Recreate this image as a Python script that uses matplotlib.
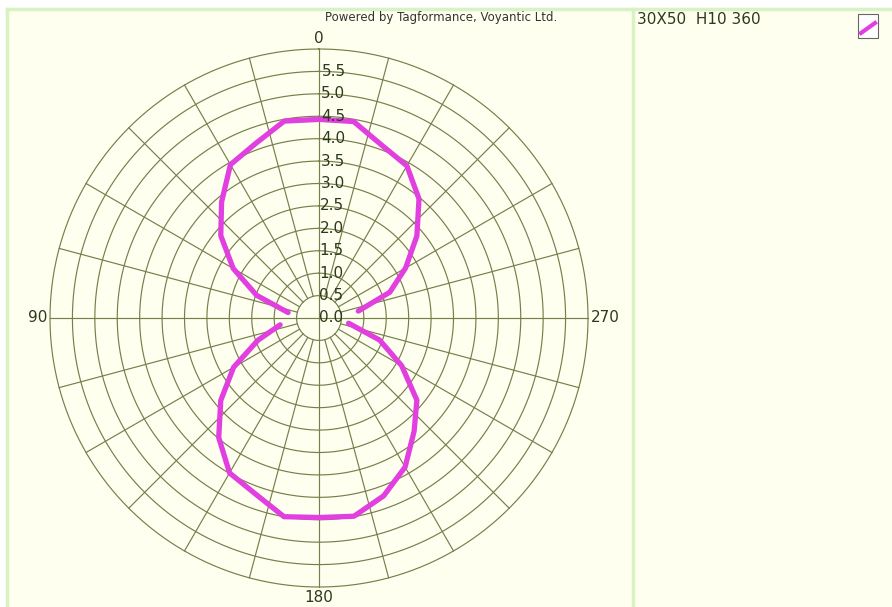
import numpy as np
import matplotlib.pyplot as plt
from matplotlib.lines import Line2D

# reading angle (deg, counter-clockwise from top) and measured value
angles = [0, 10, 20, 30, 40, 50, 60, 70, 80, 90,
          100, 110, 120, 130, 140, 150, 160, 170, 180,
          190, 200, 210, 220, 230, 240, 250, 260, 270,
          280, 290, 300, 310, 320, 330, 340, 350]
values = [4.43, 4.46, 4.14, 3.95, 3.38, 2.86, 2.21, 1.48, 0.70, np.nan,
          0.88, 1.45, 2.20, 2.86, 3.48, 3.99, 4.17, 4.50, 4.45,
          4.49, 4.22, 3.84, 3.30, 2.85, 2.13, 1.44, 0.67, np.nan,
          0.89, 1.68, 2.23, 2.85, 3.47, 3.92, 4.10, 4.45]
series_name = "30X50  H10 360"
ring_labels = ["0.0", "0.5", "1.0", "1.5", "2.0", "2.5", "3.0", "3.5",
               "4.0", "4.5", "5.0", "5.5"]
angle_labels = ["0", "90", "180", "270"]

W, H = 892, 607
bg = "#fffff0"
grid_c = "#767f4a"
txt_c = "#2b3a1a"
line_c = "#e23fe0"
border_c = "#d9f2c4"

fig = plt.figure(figsize=(W / 100, H / 100), dpi=100, facecolor="white")

# cream panel with light green frame
fig.patches.append(plt.Rectangle((7 / W, 0), 1, 1 - 9 / H, transform=fig.transFigure,
                                 facecolor=bg, edgecolor="none", zorder=-5))
for xs, ys in [([7 / W, 7 / W], [0, 1 - 9 / H]),
               ([7 / W, 1], [1 - 9 / H, 1 - 9 / H]),
               ([633 / W, 633 / W], [0, 1 - 9 / H])]:
    fig.add_artist(Line2D(xs, ys, transform=fig.transFigure, color=border_c, lw=2.5, zorder=-4))

cx, cy, R = 319, 318, 269
ax = fig.add_axes([(cx - R) / W, 1 - (cy + R) / H, 2 * R / W, 2 * R / H], projection="polar")
ax.set_zorder(2)
ax.set_theta_zero_location("N")
ax.set_theta_direction(1)
ax.set_ylim(0, 6.0)
ax.patch.set_alpha(0)
ax.spines["polar"].set_visible(False)
ax.grid(False)
ax.set_xticks([])
ax.set_yticks([])

# rings and spokes
th = np.linspace(0, 2 * np.pi, 400)
for r in np.arange(0.5, 6.01, 0.5):
    ax.plot(th, np.full_like(th, r), color=grid_c, lw=0.85, zorder=1, clip_on=False)
for a in range(0, 360, 15):
    r0 = 0 if a % 90 == 0 else 0.5
    ax.plot([np.radians(a)] * 2, [r0, 6.0], color=grid_c, lw=0.85, zorder=1, clip_on=False)

# ring value labels along the top axis
for i, lab in enumerate(ring_labels):
    ax.text(np.radians(-0.6 if i else 0), i * 0.5, lab, fontsize=11, color=txt_c,
            ha="left", va="center", zorder=3)

# angle labels
ax.text(0.5, 1.005, angle_labels[0], transform=ax.transAxes, ha="center", va="bottom",
        fontsize=11, color=txt_c)
ax.text(-0.005, 0.5, angle_labels[1], transform=ax.transAxes, ha="right", va="center",
        fontsize=11, color=txt_c)
ax.text(0.5, -0.005, angle_labels[2], transform=ax.transAxes, ha="center", va="top",
        fontsize=11, color=txt_c)
ax.text(1.005, 0.5, angle_labels[3], transform=ax.transAxes, ha="left", va="center",
        fontsize=11, color=txt_c)

# data curve (closed)
t = np.radians(angles + [360])
v = np.array(values + [values[0]])
ax.plot(t, v, color=line_c, lw=3.8, solid_joinstyle="round", solid_capstyle="round", zorder=2)

fig.text(441 / W, 1 - 18 / H, "Powered by Tagformance, Voyantic Ltd.", ha="center",
         va="center", fontsize=8.5, color="#333333")

# legend
fig.text(637 / W, 1 - 20 / H, series_name, ha="left", va="center", fontsize=11, color=txt_c)
fig.patches.append(plt.Rectangle((858 / W, 1 - 38 / H), 20 / W, 24 / H, transform=fig.transFigure,
                                 facecolor="white", edgecolor="#666666", lw=0.8))
fig.add_artist(Line2D([861 / W, 875 / W], [1 - 33 / H, 1 - 23 / H], transform=fig.transFigure,
                      color=line_c, lw=3))

fig.savefig("out.png", dpi=100, facecolor=fig.get_facecolor())
